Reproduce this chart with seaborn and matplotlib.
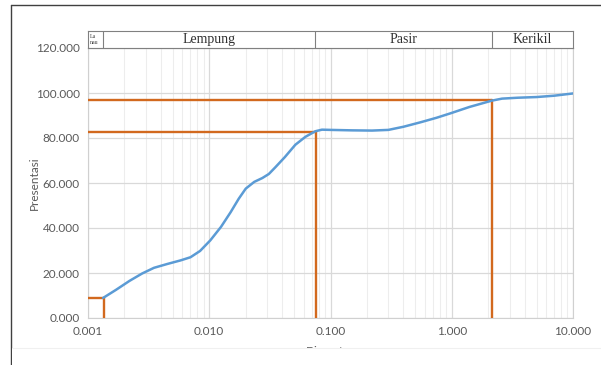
import matplotlib
matplotlib.use('Agg')
import pandas as pd
import seaborn as sns
import matplotlib.pyplot as plt
from matplotlib.patches import Rectangle

# grain size distribution
diameter = [0.00133, 0.0017, 0.0022, 0.0028, 0.0035, 0.0045, 0.0058, 0.0070, 0.0084,
            0.0102, 0.0125, 0.0150, 0.0175, 0.0200, 0.0235, 0.0274, 0.031, 0.0351,
            0.042, 0.0513, 0.062, 0.075, 0.085, 0.100, 0.150, 0.220, 0.300, 0.400,
            0.554, 0.75, 0.98, 1.4, 2.14, 2.6, 3.5, 5.0, 7.0, 10.0]
persen = [8.9, 12.5, 16.5, 19.8, 22.3, 24.0, 25.6, 27.0, 29.8,
          34.5, 40.5, 47.0, 53.0, 57.5, 60.5, 62.2, 64.0, 67.0,
          71.5, 77.0, 80.5, 83.0, 83.7, 83.6, 83.4, 83.3, 83.6, 85.0,
          87.0, 89.0, 91.0, 93.8, 96.6, 97.5, 97.9, 98.2, 98.8, 99.8]

# reference lines (diameter, percent)
ref_x = [0.00136, 0.0766, 2.14]
ref_y = [9.0, 82.7, 97.0]

# soil classes in header band
kelas = ['La\nnau', 'Lempung', 'Pasir', 'Kerikil']
batas = [0.001, 0.00133, 0.075, 2.14, 10.0]

yticks = [0, 20, 40, 60, 80, 100, 120]
xticks = [0.001, 0.01, 0.1, 1, 10]

df = pd.DataFrame({'Diameter': diameter, 'Presentasi': persen})

sns.set_style("white")
plt.rcParams['font.family'] = ['Lato', 'DejaVu Sans']

fig = plt.figure(figsize=(6.01, 3.65), dpi=100)
ax = fig.add_axes([88/601, 47/365, 485/601, 270/365])

orange = '#D2691E'
for x0, y0 in zip(ref_x, ref_y):
    ax.plot([0.001, x0], [y0, y0], color=orange, lw=1.7, zorder=3)
    ax.plot([x0, x0], [0, y0], color=orange, lw=1.7, zorder=3)

sns.lineplot(data=df, x='Diameter', y='Presentasi', ax=ax, color='#5B9BD5', lw=1.8, zorder=4)

ax.set_xscale('log')
ax.set_xlim(0.001, 10)
ax.set_ylim(0, 120)
ax.set_xticks(xticks)
ax.set_xticklabels([f'{v:.3f}' for v in xticks])
ax.set_yticks(yticks)
ax.set_yticklabels([f'{v:.3f}' for v in yticks])
ax.grid(True, which='major', color='#D9D9D9', lw=0.9)
ax.grid(True, which='minor', axis='x', color='#EDEDED', lw=0.8)
ax.tick_params(axis='both', which='both', length=0, labelsize=8.5, colors='#595959', pad=6)
for s in ax.spines.values():
    s.set_color('#D0D0D0')
    s.set_linewidth(0.8)
ax.set_ylabel('Presentasi', fontsize=8.5, color='#595959', labelpad=0)
ax.yaxis.set_label_coords(-0.1, 0.5)
ax.set_xlabel('Diameter', fontsize=8.5, color='#595959', labelpad=6)

# header band with soil classes
hx = fig.add_axes([88/601, 317/365, 485/601, 17/365])
hx.set_xscale('log')
hx.set_xlim(0.001, 10)
hx.set_ylim(0, 1)
hx.set_xticks([])
hx.set_yticks([])
hx.set_facecolor('none')
for s in hx.spines.values():
    s.set_color('#808080')
    s.set_linewidth(0.8)
for b in batas[1:-1]:
    hx.axvline(b, color='#808080', lw=0.8)
for i, k in enumerate(kelas):
    xm = (batas[i] * batas[i + 1]) ** 0.5
    if i == 0:
        hx.text(0.00103, 0.5, k, ha='left', va='center', fontsize=4.2,
                family='Liberation Serif', color='#404040', linespacing=1.3)
    else:
        hx.text(xm, 0.5, k, ha='center', va='center', fontsize=10,
                family='Liberation Serif', color='#303030')

# page frame lines and cut-off bottom
fig.add_artist(plt.Line2D([11/601, 11/601], [0, 360/365], color='#404040', lw=1))
fig.add_artist(plt.Line2D([11/601, 1], [360/365, 360/365], color='#404040', lw=1))
fig.add_artist(Rectangle((12/601, 0), 1, 17/365, transform=fig.transFigure,
                         facecolor='white', edgecolor='none', zorder=10))
fig.add_artist(plt.Line2D([12/601, 1], [17/365, 17/365], color='#F0F0F0', lw=0.8, zorder=11))

fig.savefig('out.png', dpi=100)
